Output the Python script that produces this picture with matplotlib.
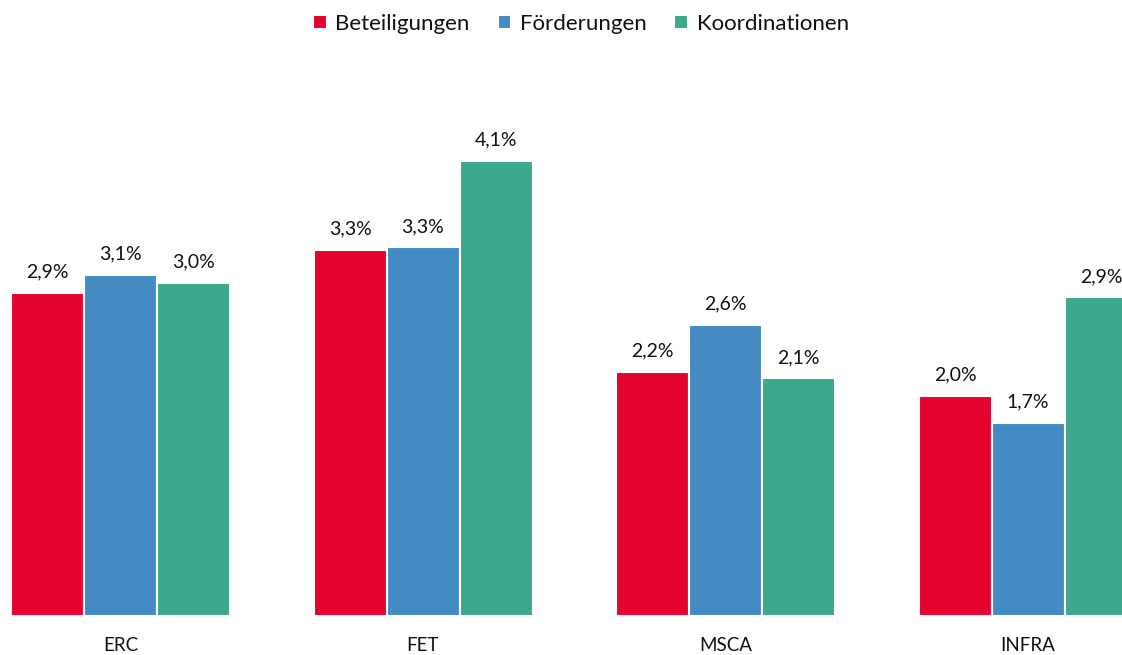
import matplotlib
matplotlib.use("Agg")
import matplotlib.pyplot as plt
import numpy as np

categories = ["ERC", "FET", "MSCA", "INFRA"]
series_names = ["Beteiligungen", "Förderungen", "Koordinationen"]
beteiligungen = [2.91, 3.30, 2.20, 1.98]
foerderungen = [3.07, 3.32, 2.62, 1.74]
koordinationen = [3.00, 4.10, 2.14, 2.87]
colors = ["#E4032E", "#458BC3", "#3DA98C"]

plt.rcParams['font.family'] = ['Lato', 'DejaVu Sans']

fig = plt.figure(figsize=(11.22, 6.55), dpi=100)
ax = fig.add_axes([0, 39/655, 1, 555/655])

x = np.arange(len(categories))
w = 73/302.5
data = [beteiligungen, foerderungen, koordinationen]
for i, (vals, name, c) in enumerate(zip(data, series_names, colors)):
    bars = ax.bar(x + (i - 1) * w, vals, width=w, color=c, edgecolor="white",
                  linewidth=1.5, label=name)
    for b, v in zip(bars, vals):
        ax.annotate(f"{v:.1f}%".replace(".", ","),
                    (b.get_x() + b.get_width() / 2, v),
                    xytext=(0, 9), textcoords="offset points",
                    ha="center", va="bottom", fontsize=14, color="#111111")

ax.set_xlim(-120.5/302.5, (1122 - 120.5)/302.5)
ax.set_ylim(0, 5.0)
ax.set_xticks(x)
ax.set_xticklabels(categories, fontsize=13.5, color="#111111")
ax.tick_params(axis="x", length=0, pad=15)
ax.set_yticks([])
for s in ax.spines.values():
    s.set_visible(False)

fig.legend(loc="center", bbox_to_anchor=(581/1122, 1 - 24/655), ncol=3,
           frameon=False, fontsize=16, handlelength=0.6, handleheight=0.6,
           handletextpad=0.4, columnspacing=1.25, labelcolor="#111111")

fig.savefig("out.png", dpi=100)
